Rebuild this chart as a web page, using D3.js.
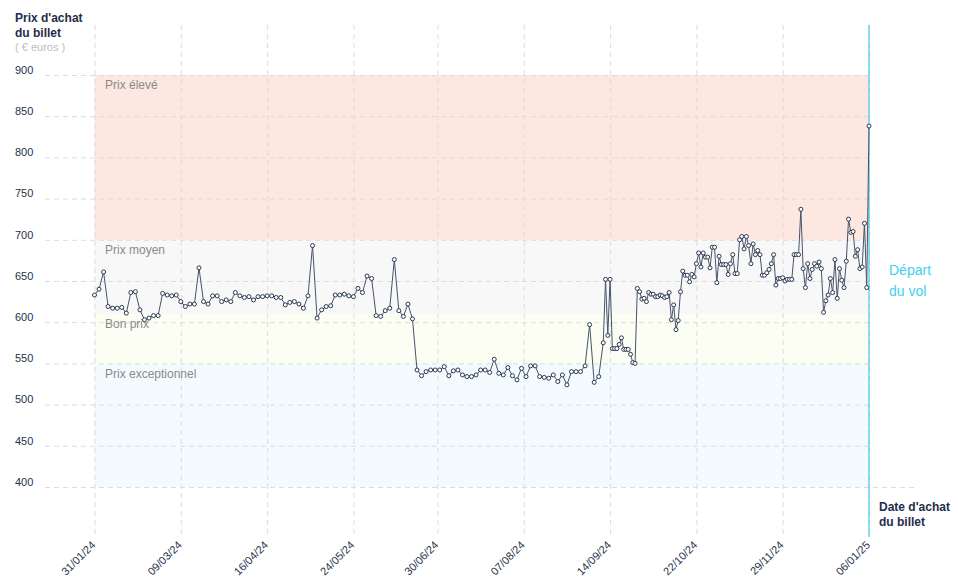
<!DOCTYPE html>
<html><head><meta charset="utf-8">
<script src="https://cdn.jsdelivr.net/npm/d3@7/dist/d3.min.js"></script>
<style>
body{margin:0;background:#fff;}
svg{display:block;font-family:"Liberation Sans",Arial,sans-serif;}
</style></head><body>
<svg id="c" width="958" height="585"></svg>
<script>
const dates = [
"2024-01-31","2024-02-02","2024-02-04","2024-02-06","2024-02-08","2024-02-10","2024-02-12","2024-02-14","2024-02-16","2024-02-18",
"2024-02-20","2024-02-22","2024-02-24","2024-02-26","2024-02-28","2024-03-01","2024-03-03","2024-03-05","2024-03-07","2024-03-09",
"2024-03-11","2024-03-13","2024-03-15","2024-03-17","2024-03-19","2024-03-21","2024-03-23","2024-03-25","2024-03-27","2024-03-29",
"2024-03-31","2024-04-02","2024-04-04","2024-04-06","2024-04-08","2024-04-10","2024-04-12","2024-04-14","2024-04-16","2024-04-18",
"2024-04-20","2024-04-22","2024-04-24","2024-04-26","2024-04-28","2024-04-30","2024-05-02","2024-05-04","2024-05-06","2024-05-08",
"2024-05-10","2024-05-12","2024-05-14","2024-05-16","2024-05-18","2024-05-20","2024-05-22","2024-05-24","2024-05-26","2024-05-28",
"2024-05-30","2024-06-01","2024-06-03","2024-06-05","2024-06-07","2024-06-09","2024-06-11","2024-06-13","2024-06-15","2024-06-17",
"2024-06-19","2024-06-21","2024-06-23","2024-06-25","2024-06-27","2024-06-29","2024-07-01","2024-07-03","2024-07-05","2024-07-07",
"2024-07-09","2024-07-11","2024-07-13","2024-07-15","2024-07-17","2024-07-19","2024-07-21","2024-07-23","2024-07-25","2024-07-27",
"2024-07-29","2024-07-31","2024-08-02","2024-08-04","2024-08-06","2024-08-08","2024-08-10","2024-08-12","2024-08-14","2024-08-16",
"2024-08-18","2024-08-20","2024-08-22","2024-08-24","2024-08-26","2024-08-28","2024-08-30","2024-09-01","2024-09-03","2024-09-05",
"2024-09-07","2024-09-09","2024-09-11","2024-09-12","2024-09-13","2024-09-14","2024-09-15","2024-09-16","2024-09-17","2024-09-18",
"2024-09-19","2024-09-20","2024-09-21","2024-09-22","2024-09-23","2024-09-24","2024-09-25","2024-09-26","2024-09-27","2024-09-28",
"2024-09-29","2024-09-30","2024-10-01","2024-10-02","2024-10-03","2024-10-04","2024-10-05","2024-10-06","2024-10-07","2024-10-08",
"2024-10-09","2024-10-10","2024-10-11","2024-10-12","2024-10-13","2024-10-14","2024-10-15","2024-10-16","2024-10-17","2024-10-18",
"2024-10-19","2024-10-20","2024-10-21","2024-10-22","2024-10-23","2024-10-24","2024-10-25","2024-10-26","2024-10-27","2024-10-28",
"2024-10-29","2024-10-30","2024-10-31","2024-11-01","2024-11-02","2024-11-03","2024-11-04","2024-11-05","2024-11-06","2024-11-07",
"2024-11-08","2024-11-09","2024-11-10","2024-11-11","2024-11-12","2024-11-13","2024-11-14","2024-11-15","2024-11-16","2024-11-17",
"2024-11-18","2024-11-19","2024-11-20","2024-11-21","2024-11-22","2024-11-23","2024-11-24","2024-11-25","2024-11-26","2024-11-27",
"2024-11-28","2024-11-29","2024-11-30","2024-12-01","2024-12-02","2024-12-03","2024-12-04","2024-12-05","2024-12-06","2024-12-07",
"2024-12-08","2024-12-09","2024-12-10","2024-12-11","2024-12-12","2024-12-13","2024-12-14","2024-12-15","2024-12-16","2024-12-17",
"2024-12-18","2024-12-19","2024-12-20","2024-12-21","2024-12-22","2024-12-23","2024-12-24","2024-12-25","2024-12-26","2024-12-27",
"2024-12-28","2024-12-29","2024-12-30","2024-12-31","2025-01-01","2025-01-02","2025-01-03","2025-01-04","2025-01-05","2025-01-06"
];
const prices = [
633,640,661,619,617,617,618,611,636,637,
615,603,605,608,608,635,633,632,633,625,
619,622,622,666,625,622,632,632,625,627,
625,636,632,630,631,627,631,631,632,632,
630,630,621,624,625,622,617,632,693,605,
615,619,620,633,633,634,632,631,641,636,
656,653,608,607,614,617,676,614,607,622,
604,542,535,540,542,542,542,546,535,541,
542,536,534,534,536,542,542,539,555,538,
536,545,535,530,544,534,547,547,534,533,
532,536,528,536,524,540,540,540,547,597,
527,534,575,652,584,652,568,568,568,573,
581,567,567,567,561,551,550,641,637,628,
629,625,636,634,634,631,631,633,632,630,
631,636,603,621,591,602,637,662,657,657,
649,658,655,671,684,667,684,679,679,666,
691,691,648,680,670,670,670,658,671,682,
659,659,700,704,689,704,693,671,695,682,
687,682,657,657,660,664,671,682,645,653,
653,654,650,652,652,652,682,682,682,737,
665,642,671,653,664,671,668,673,665,612,
626,633,653,636,676,629,665,651,642,674,
725,709,710,680,688,665,667,720,642,838
];
const xTickDates = ["2024-01-31","2024-03-09","2024-04-16","2024-05-24","2024-06-30","2024-08-07","2024-09-14","2024-10-22","2024-11-29","2025-01-06"];
const yTicks = [400,450,500,550,600,650,700,750,800,850,900];
const bandLabels = ["Prix élevé","Prix moyen","Bon prix","Prix exceptionnel"];
const bandTops = [900,700,610,550];
const bandBottoms = [700,610,550,400];

const bandColors = ["#fde7e1","#f8f8f8","#fcfdf3","#f3fbfe"];
const parse = d3.utcParse("%Y-%m-%d");
const fmt = d3.utcFormat("%d/%m/%y");
const data = dates.map((d,i)=>({date:parse(d), v:prices[i]}));
const svg = d3.select("#c");

const x = d3.scaleUtc().domain([parse(xTickDates[0]), parse(xTickDates[xTickDates.length-1])]).range([94.5, 869]);
const y = d3.scaleLinear().domain([400,900]).range([487,75]);

// bands
const bands = bandLabels.map((l,i)=>({label:l, top:bandTops[i], bottom:bandBottoms[i], color:bandColors[i]}));
svg.append("g").selectAll("rect").data(bands).join("rect")
  .attr("x", x.range()[0]).attr("width", x.range()[1]-x.range()[0])
  .attr("y", d=>y(d.top)).attr("height", d=>y(d.bottom)-y(d.top))
  .attr("fill", d=>d.color);

// horizontal grid
const gy = svg.append("g").attr("transform","translate(45,0)")
  .call(d3.axisRight(y).tickValues(yTicks).tickSize(869-45).tickFormat(""));
gy.select(".domain").remove();
gy.selectAll(".tick line").attr("stroke","#dcdcdc").attr("stroke-dasharray","5,4")
  .filter(d=>d===yTicks[0]).attr("x2", 918-45);

// vertical grid
const gx = svg.append("g").attr("transform","translate(0,25)")
  .call(d3.axisBottom(x).tickValues(xTickDates.map(parse)).tickSize(510).tickFormat(""));
gx.select(".domain").remove();
gx.selectAll(".tick line").attr("stroke","#dcdcdc").attr("stroke-dasharray","5,4");

// band labels
svg.append("g").selectAll("text").data(bands).join("text")
  .attr("x",105).attr("y",d=>y(d.top)+10).attr("dy","0.35em")
  .attr("fill","#8a8a8a").attr("font-size",12).text(d=>d.label);

// y tick labels
svg.append("g").selectAll("text").data(yTicks).join("text")
  .attr("x",15).attr("y",d=>y(d)-5).attr("dy","0.35em")
  .attr("fill","#26314a").attr("font-size",11).text(d=>d);

// x tick labels
svg.append("g").selectAll("text").data(xTickDates.map(parse)).join("text")
  .attr("transform",d=>`translate(${x(d)-1},543) rotate(-45)`)
  .attr("text-anchor","end").attr("dy","0.35em")
  .attr("fill","#26314a").attr("font-size",11).text(d=>fmt(d));

// departure line
svg.append("line").attr("x1",x.range()[1]).attr("x2",x.range()[1]).attr("y1",25).attr("y2",537)
  .attr("stroke","#45c8ef").attr("stroke-width",1.2);

// line
svg.append("path").datum(data)
  .attr("d", d3.line().x(d=>x(d.date)).y(d=>y(d.v)))
  .attr("fill","none").attr("stroke","#46536a").attr("stroke-width",1);
svg.append("g").selectAll("circle").data(data).join("circle")
  .attr("cx",d=>x(d.date)).attr("cy",d=>y(d.v)).attr("r",2)
  .attr("fill","#fff").attr("stroke","#2b3850").attr("stroke-width",1);

// titles
const t = svg.append("text").attr("x",15).attr("y",22).attr("fill","#1f2d4a").attr("font-size",12).attr("font-weight","bold");
t.append("tspan").attr("x",15).text("Prix d'achat");
t.append("tspan").attr("x",15).attr("dy",15).text("du billet");
svg.append("text").attr("x",15).attr("y",51).attr("fill","#bdbdbd").attr("font-size",11).text("( € euros )");

const t2 = svg.append("text").attr("x",879).attr("y",511).attr("fill","#1f2d4a").attr("font-size",12).attr("font-weight","bold");
t2.append("tspan").attr("x",879).text("Date d'achat");
t2.append("tspan").attr("x",879).attr("dy",15).text("du billet");

const t3 = svg.append("text").attr("x",889).attr("y",275).attr("fill","#3fd0f2").attr("font-size",14);
t3.append("tspan").attr("x",889).text("Départ");
t3.append("tspan").attr("x",889).attr("dy",21).text("du vol");
</script>
</body></html>
